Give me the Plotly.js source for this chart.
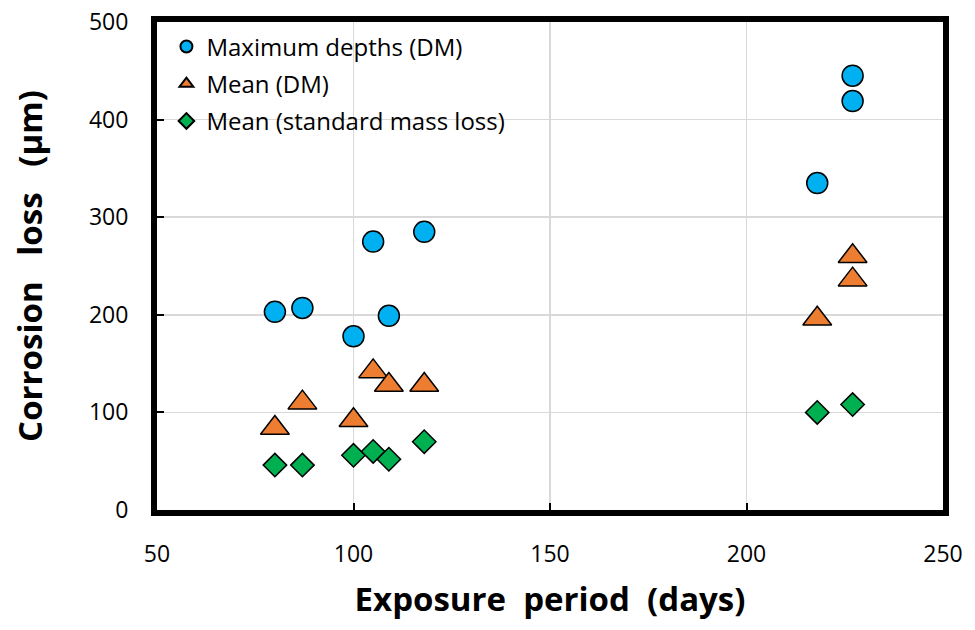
<!DOCTYPE html>
<html>
<head>
<meta charset="utf-8">
<script src="https://cdn.plot.ly/plotly-3.0.1.min.js"></script>
<style>html,body{margin:0;padding:0;background:#fff;}#chart{width:975px;height:630px;}</style>
</head>
<body>
<div id="chart"></div>
<script>
// Exposure period (days)
var daysMax = [80, 87, 100, 105, 109, 118, 218, 227, 227];
var maxDepthsDM = [203, 207, 178, 275, 199, 285, 335, 419, 445];

var daysMeanDM = [80, 87, 100, 105, 109, 118, 218, 227, 227];
var meanDM = [84, 110, 92, 142, 128, 128, 196, 236, 260];

var daysMassLoss = [80, 87, 100, 105, 109, 118, 218, 227];
var meanMassLoss = [46, 46, 56, 60, 52, 70, 100, 108];

var seriesNames = ["Maximum depths (DM)", "Mean (DM)", "Mean (standard mass loss)"];
var xTickVals = [50, 100, 150, 200, 250];
var yTickVals = [0, 100, 200, 300, 400, 500];

var txtFont = "Open Sans, Noto Sans, sans-serif";

var traces = [
  {x: daysMax, y: maxDepthsDM, name: seriesNames[0], legendgroup: "a", type: "scatter", mode: "markers",
   marker: {symbol: "circle", size: 21, color: "#00b0f0", line: {color: "#000", width: 1.5}}},
  {x: daysMeanDM, y: meanDM, name: seriesNames[1], legendgroup: "b", type: "scatter", mode: "markers",
   marker: {symbol: "triangle-up", size: 25, color: "#ed7d31", line: {color: "#000", width: 1.5}}},
  {x: daysMassLoss, y: meanMassLoss, name: seriesNames[2], legendgroup: "c", type: "scatter", mode: "markers",
   marker: {symbol: "diamond", size: 18, color: "#00b050", line: {color: "#000", width: 1.5}}}
];

var layout = {
  width: 975, height: 630,
  margin: {l: 157, r: 32, t: 22, b: 120},
  paper_bgcolor: "#fff", plot_bgcolor: "#fff",
  font: {family: txtFont, color: "#000", size: 22},
  showlegend: true,
  legend: {x: 0.012, y: 0.995, xanchor: "left", yanchor: "top", bgcolor: "rgba(0,0,0,0)",
           font: {family: txtFont, size: 24, color: "#000"}, itemsizing: "constant", tracegroupgap: 3},
  xaxis: {
    range: [50, 250], tickvals: xTickVals, ticktext: xTickVals.map(String),
    showgrid: true, gridcolor: "#d9d9d9", gridwidth: 1.5,
    showline: true, linecolor: "#000", linewidth: 6, mirror: true,
    ticks: "inside", ticklen: 7, tickwidth: 2, tickcolor: "#000",
    zeroline: false, ticklabelstandoff: 18,
    tickfont: {family: txtFont, size: 23, color: "#000"},
    title: {text: "Exposure  period  (days)", standoff: 22, font: {family: txtFont, size: 33, color: "#000", weight: "bold"}}
  },
  yaxis: {
    range: [0, 500], tickvals: yTickVals, ticktext: yTickVals.map(String),
    showgrid: true, gridcolor: "#d9d9d9", gridwidth: 1.5,
    showline: true, linecolor: "#000", linewidth: 6, mirror: true,
    ticks: "inside", ticklen: 7, tickwidth: 2, tickcolor: "#000",
    zeroline: false, ticklabelstandoff: 18,
    tickfont: {family: txtFont, size: 23, color: "#000"},
    title: {text: "Corrosion   loss   (µm)", standoff: 38, font: {family: txtFont, size: 33, color: "#000", weight: "bold"}}
  }
};

Plotly.newPlot("chart", traces, layout, {displayModeBar: false, staticPlot: true});
</script>
</body>
</html>
